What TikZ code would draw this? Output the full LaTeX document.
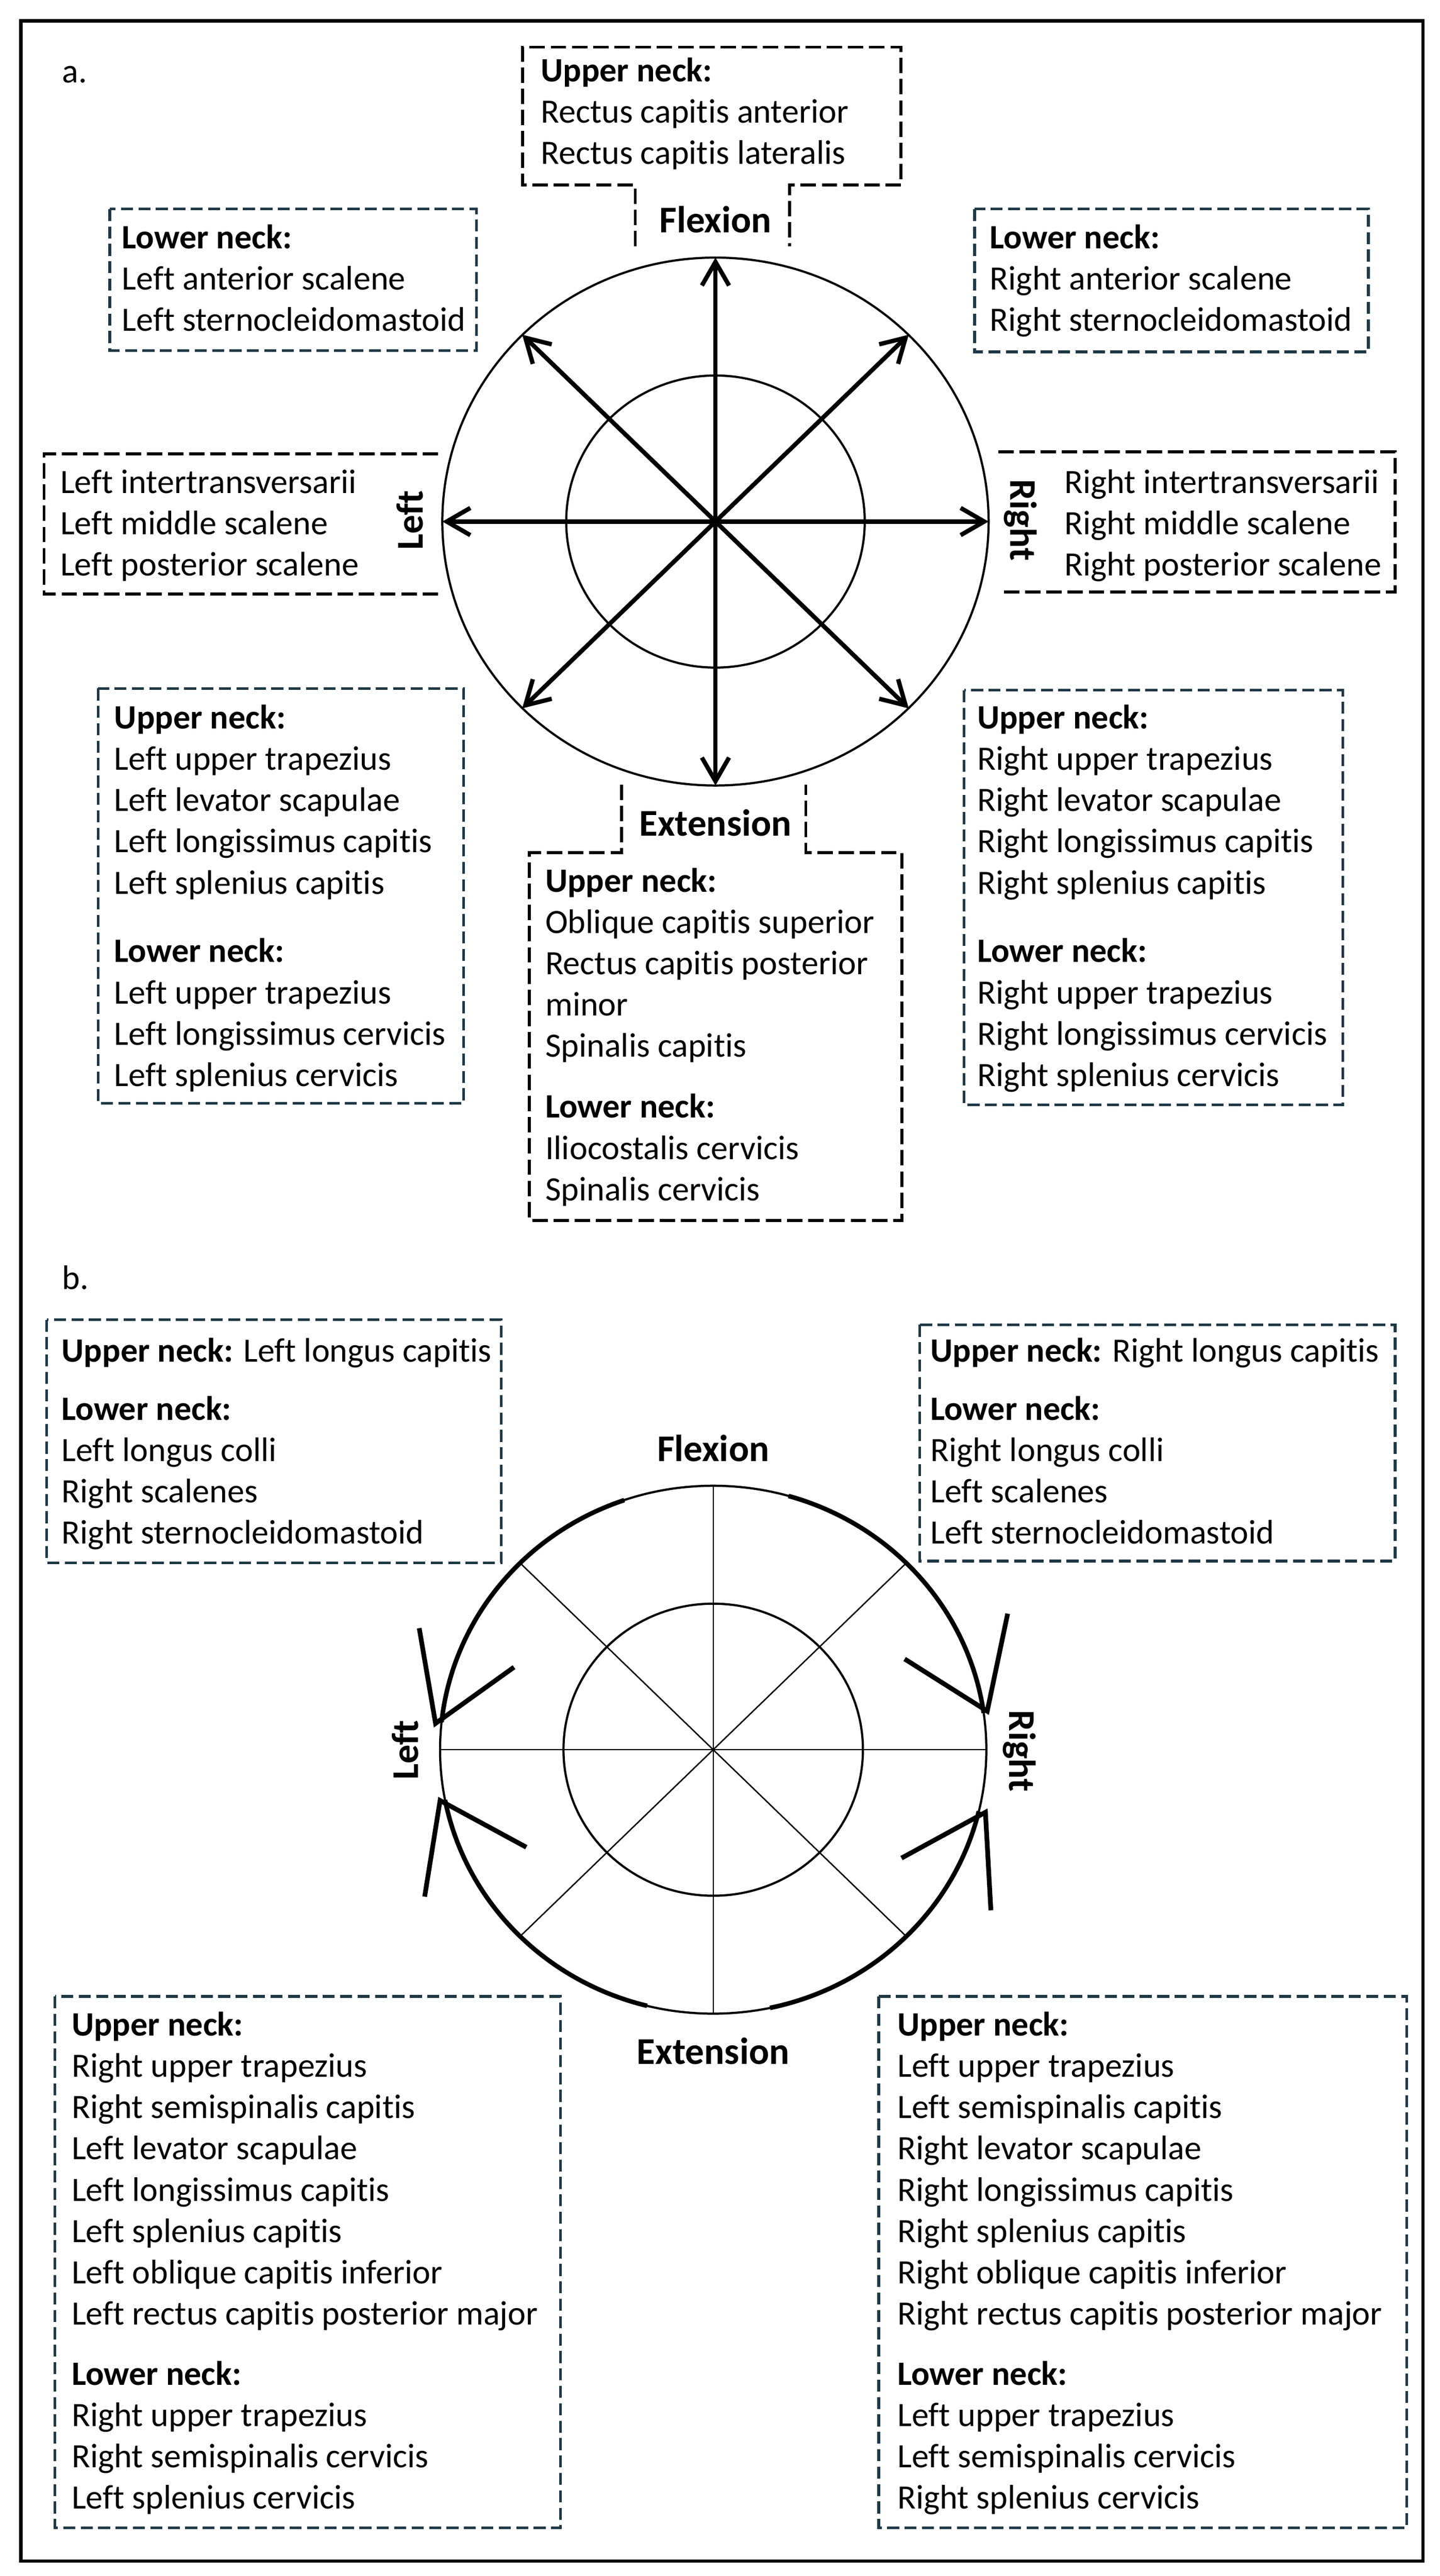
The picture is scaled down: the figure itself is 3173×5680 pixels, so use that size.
\documentclass[tikz,border=0pt]{standalone}
\usepackage{fontspec}
\setmainfont{Carlito}[Ligatures=CommonOff]
\usetikzlibrary{arrows.meta}
\definecolor{boxteal}{RGB}{31,56,70}
\newcommand{\bodyfont}{\fontsize{18.8pt}{22.75pt}\selectfont}
\newcommand{\labfont}{\fontsize{20.8pt}{24pt}\selectfont\bfseries}
\begin{document}
\begin{tikzpicture}[x=0.25pt,y=-0.25pt,
  boxtext/.style={anchor=north west, inner sep=0pt, outer sep=0pt, align=left, font=\bodyfont, yshift=15.925pt},
  dirlabel/.style={inner sep=0pt, outer sep=0pt, font=\labfont},
  blkbox/.style={draw=black, line width=1.6pt, dash pattern=on 8.5pt off 3.2pt},
  tealbox/.style={draw=boxteal, line width=1.5pt, dash pattern=on 6.6pt off 3pt},
  ringline/.style={line width=1.2pt},
  spoke/.style={line width=2.4pt, -{Straight Barb[length=13pt,width=15pt]}},
  thinspoke/.style={line width=0.75pt},
  bendarc/.style={line width=2.5pt},
  barbline/.style={line width=2.6pt, line join=miter},
]
\useasboundingbox (0,0) rectangle (3173,5680);
% frame
\draw[line width=1.75pt] (46,46) rectangle (3136,5647);

%==================== PART a ====================
\node[anchor=base west, inner sep=0pt, font=\bodyfont] (alabel) at (136,182) {a.};

\coordinate (ca) at (1577,1150);
\draw[ringline] (ca) ellipse [x radius=150.5pt, y radius=145.5pt];
\draw[ringline] (ca) ellipse [x radius=82.25pt, y radius=80.5pt];

\coordinate (aN) at (1577,568);
\coordinate (aS) at (1577,1732);
\coordinate (aW) at (975,1150);
\coordinate (aE) at (2179,1150);
\coordinate (aNE) at (2003,738);
\coordinate (aNW) at (1151,738);
\coordinate (aSE) at (2003,1562);
\coordinate (aSW) at (1151,1562);
\foreach \t in {aN,aS,aW,aE,aNE,aNW,aSE,aSW}{\draw[spoke] (ca) -- (\t);}

% labels
\node[dirlabel, anchor=base] (flexa) at (1577,513) {Flexion};
\node[dirlabel, anchor=base] (exta) at (1577,1843) {Extension};
\node[dirlabel, rotate=90] (lefta) at (903,1147) {Left};
\node[dirlabel, rotate=-90] (righta) at (2249,1147) {Right};

% top box (flexion)
\draw[blkbox] (1400,543) -- (1400,408) -- (1152,408) -- (1152,104) -- (1986,104) -- (1986,408) -- (1740,408) -- (1740,543);
\node[boxtext] (topa) at (1192,180) {\strut\textbf{Upper neck:}\\Rectus capitis anterior\\Rectus capitis lateralis};

% top-left / top-right
\draw[tealbox] (242,461) rectangle (1050,773);
\node[boxtext] (tla) at (269,548) {\strut\textbf{Lower neck:}\\Left anterior scalene\\Left sternocleidomastoid};
\draw[tealbox] (2148,461) rectangle (3016,776);
\node[boxtext] (tra) at (2182,548) {\strut\textbf{Lower neck:}\\Right anterior scalene\\Right sternocleidomastoid};

% left / right (open towards circle)
\draw[blkbox] (966,1001) -- (97,1001) -- (97,1310) -- (966,1310);
\node[boxtext] (mla) at (133,1088) {\strut Left intertransversarii\\Left middle scalene\\Left posterior scalene};
\draw[blkbox] (2200,996) -- (3075,996) -- (3075,1305) -- (2200,1305);
\node[boxtext] (mra) at (2346,1088) {\strut Right intertransversarii\\Right middle scalene\\Right posterior scalene};

% lower-left / lower-right
\draw[tealbox] (216,1518) rectangle (1022,2433);
\node[boxtext] (bla) at (252,1607) {\strut\textbf{Upper neck:}\\Left upper trapezius\\Left levator scapulae\\Left longissimus capitis\\Left splenius capitis\\[15pt]\textbf{Lower neck:}\\Left upper trapezius\\Left longissimus cervicis\\Left splenius cervicis};
\draw[tealbox] (2125,1522) rectangle (2960,2436);
\node[boxtext] (bra) at (2154,1607) {\strut\textbf{Upper neck:}\\Right upper trapezius\\Right levator scapulae\\Right longissimus capitis\\Right splenius capitis\\[15pt]\textbf{Lower neck:}\\Right upper trapezius\\Right longissimus cervicis\\Right splenius cervicis};

% extension box
\draw[blkbox] (1370,1730) -- (1370,1880) -- (1167,1880) -- (1167,2691) -- (1988,2691) -- (1988,1880) -- (1776,1880) -- (1776,1730);
\node[boxtext] (bota) at (1202,1967) {\strut\textbf{Upper neck:}\\Oblique capitis superior\\Rectus capitis posterior\\minor\\Spinalis capitis\\[10.75pt]\textbf{Lower neck:}\\Iliocostalis cervicis\\Spinalis cervicis};

%==================== PART b ====================
\node[anchor=base west, inner sep=0pt, font=\bodyfont] (blabel) at (136,2843) {b.};

\coordinate (cb) at (1572,3858);
\draw[ringline] (cb) ellipse [x radius=150.5pt, y radius=145.5pt];
\draw[ringline] (cb) ellipse [x radius=82.5pt, y radius=80.5pt];

\coordinate (bN) at (1572,3276);
\coordinate (bS) at (1572,4440);
\coordinate (bW) at (970,3858);
\coordinate (bE) at (2174,3858);
\coordinate (bNE) at (1998,3446);
\coordinate (bNW) at (1146,3446);
\coordinate (bSE) at (1998,4270);
\coordinate (bSW) at (1146,4270);
\draw[thinspoke] (bN) -- (bS);
\draw[thinspoke] (bW) -- (bE);
\draw[thinspoke] (bNE) -- (bSW);
\draw[thinspoke] (bNW) -- (bSE);

% curved arrows
\draw[bendarc] ([shift={(109:150.5pt and 145.5pt)}]cb) arc[start angle=109, end angle=174, x radius=150.5pt, y radius=145.5pt];
\draw[bendarc] ([shift={(256:150.5pt and 145.5pt)}]cb) arc[start angle=256, end angle=191, x radius=150.5pt, y radius=145.5pt];
\draw[bendarc] ([shift={(74:150.5pt and 145.5pt)}]cb) arc[start angle=74, end angle=8, x radius=150.5pt, y radius=145.5pt];
\draw[bendarc] ([shift={(-78:150.5pt and 145.5pt)}]cb) arc[start angle=-78, end angle=-13.5, x radius=150.5pt, y radius=145.5pt];

\coordinate (ulT) at (960,3800);
\coordinate (ulA) at (924,3590);
\coordinate (ulB) at (1133,3676);
\coordinate (llT) at (970,3970);
\coordinate (llA) at (936,4182);
\coordinate (llB) at (1160,4073);
\coordinate (urT) at (2176,3773);
\coordinate (urA) at (2221,3558);
\coordinate (urB) at (1994,3658);
\coordinate (lrT) at (2172,3996);
\coordinate (lrA) at (2184,4212);
\coordinate (lrB) at (1987,4097);
\draw[barbline] (ulA) -- (ulT) -- (ulB);
\draw[barbline] (llA) -- (llT) -- (llB);
\draw[barbline] (urA) -- (urT) -- (urB);
\draw[barbline] (lrA) -- (lrT) -- (lrB);

% labels
\node[dirlabel, anchor=base] (flexb) at (1572,3222) {Flexion};
\node[dirlabel, anchor=base] (extb) at (1572,4551) {Extension};
\node[dirlabel, rotate=90] (leftb) at (893,3859) {Left};
\node[dirlabel, rotate=-90] (rightb) at (2247,3861) {Right};

% boxes
\draw[tealbox] (103,2910) rectangle (1105,3446);
\node[boxtext] (tlb) at (136,3003) {\strut\textbf{Upper neck:} Left longus capitis\\[9.25pt]\textbf{Lower neck:}\\Left longus colli\\Right scalenes\\Right sternocleidomastoid};
\draw[tealbox] (2027,2921) rectangle (3075,3442);
\node[boxtext] (trb) at (2051,3003) {\strut\textbf{Upper neck:} Right longus capitis\\[9.25pt]\textbf{Lower neck:}\\Right longus colli\\Left scalenes\\Left sternocleidomastoid};

\draw[tealbox] (121,4402) rectangle (1235,5574);
\node[boxtext] (blb) at (158,4489) {\strut\textbf{Upper neck:}\\Right upper trapezius\\Right semispinalis capitis\\Left levator scapulae\\Left longissimus capitis\\Left splenius capitis\\Left oblique capitis inferior\\Left rectus capitis posterior major\\[10.5pt]\textbf{Lower neck:}\\Right upper trapezius\\Right semispinalis cervicis\\Left splenius cervicis};
\draw[tealbox] (1937,4402) rectangle (3101,5574);
\node[boxtext] (brb) at (1978,4489) {\strut\textbf{Upper neck:}\\Left upper trapezius\\Left semispinalis capitis\\Right levator scapulae\\Right longissimus capitis\\Right splenius capitis\\Right oblique capitis inferior\\Right rectus capitis posterior major\\[10.5pt]\textbf{Lower neck:}\\Left upper trapezius\\Left semispinalis cervicis\\Right splenius cervicis};
\end{tikzpicture}
\end{document}
